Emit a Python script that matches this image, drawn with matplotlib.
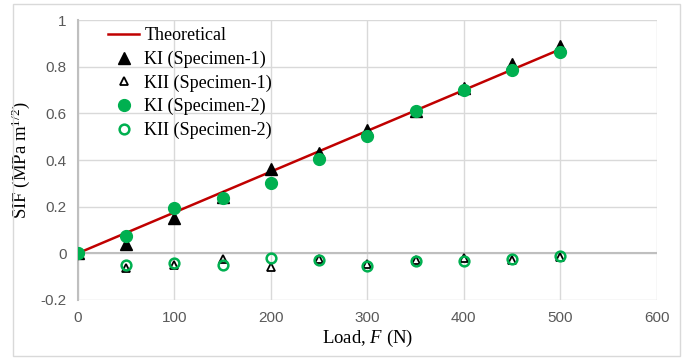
import numpy as np
import matplotlib.pyplot as plt
from matplotlib.patches import Rectangle

load = [0, 50, 100, 150, 200, 250, 300, 350, 400, 450, 500]
theory_load = [0, 500]
theory_sif = [0, 0.875]
ki_spec1 = [0, 0.04, 0.15, 0.24, 0.36, 0.43, 0.53, 0.61, 0.71, 0.81, 0.89]
kii_spec1 = [0, -0.065, -0.05, -0.025, -0.06, -0.025, -0.045, -0.03, -0.02, -0.03, -0.015]
ki_spec2 = [0, 0.075, 0.195, 0.235, 0.30, 0.405, 0.505, 0.61, 0.70, 0.785, 0.865]
kii_spec2 = [0, -0.05, -0.04, -0.05, -0.02, -0.03, -0.055, -0.035, -0.035, -0.025, -0.01]

green = '#00b050'
serif = 'Liberation Serif'
sans = 'Liberation Sans'

plt.rcParams['mathtext.fontset'] = 'custom'
plt.rcParams['mathtext.it'] = 'Liberation Serif:italic'
plt.rcParams['mathtext.rm'] = 'Liberation Serif'

fig = plt.figure(figsize=(6.95, 3.6), dpi=100)
ax = fig.add_axes([0.112, 0.167, 0.833, 0.777])

# outer chart border like the excel chart area
fig.patches.append(Rectangle((13/695, 4/360), 667/695, 352/360, transform=fig.transFigure,
                             fill=False, edgecolor='#d9d9d9', linewidth=1))

ax.plot(theory_load, theory_sif, color='#c00000', linewidth=1.8, label='Theoretical', zorder=3)
ax.plot(load, ki_spec1, '^', color='black', markersize=8, linestyle='none',
        label='KI (Specimen-1)', zorder=4)
ax.plot(load, kii_spec1, '^', markerfacecolor='white', markeredgecolor='black', markersize=6,
        markeredgewidth=1.3, linestyle='none', label='KII (Specimen-1)', zorder=4)
ax.plot(load, ki_spec2, 'o', color=green, markersize=8.5, linestyle='none',
        label='KI (Specimen-2)', zorder=5)
ax.plot(load, kii_spec2, 'o', markerfacecolor='none', markeredgecolor=green, markersize=7,
        markeredgewidth=1.8, linestyle='none', label='KII (Specimen-2)', zorder=5)

ax.set_xlim(0, 600)
ax.set_ylim(-0.2, 1)
ax.set_xticks(np.arange(0, 601, 100))
ax.set_yticks(np.arange(-0.2, 1.01, 0.2))
ax.set_yticklabels(['-0.2', '0', '0.2', '0.4', '0.6', '0.8', '1'])
ax.grid(True, color='#d9d9d9', linewidth=1)
ax.set_axisbelow(True)
ax.axhline(0, color='#bfbfbf', linewidth=1.5, zorder=2)
for s in ['top', 'right', 'bottom']:
    ax.spines[s].set_visible(False)
ax.spines['left'].set_color('#bfbfbf')
ax.spines['left'].set_linewidth(1.5)
ax.tick_params(length=0, labelsize=11, labelcolor='#595959', pad=8)
for lbl in ax.get_xticklabels() + ax.get_yticklabels():
    lbl.set_fontfamily(sans)

ax.set_xlabel('Load, $F$ (N)', fontsize=13.5, fontfamily=serif, labelpad=2)
ax.set_ylabel('SIF (MPa m$^{1/2}$)', fontsize=13.5, fontfamily=serif, labelpad=6)

leg = ax.legend(loc='upper left', bbox_to_anchor=(0.034, 1.013), frameon=False,
                prop={'family': serif, 'size': 13}, handlelength=1.7,
                handletextpad=0.3, labelspacing=0.35, borderaxespad=0.2)

fig.savefig('out.png', dpi=100)
